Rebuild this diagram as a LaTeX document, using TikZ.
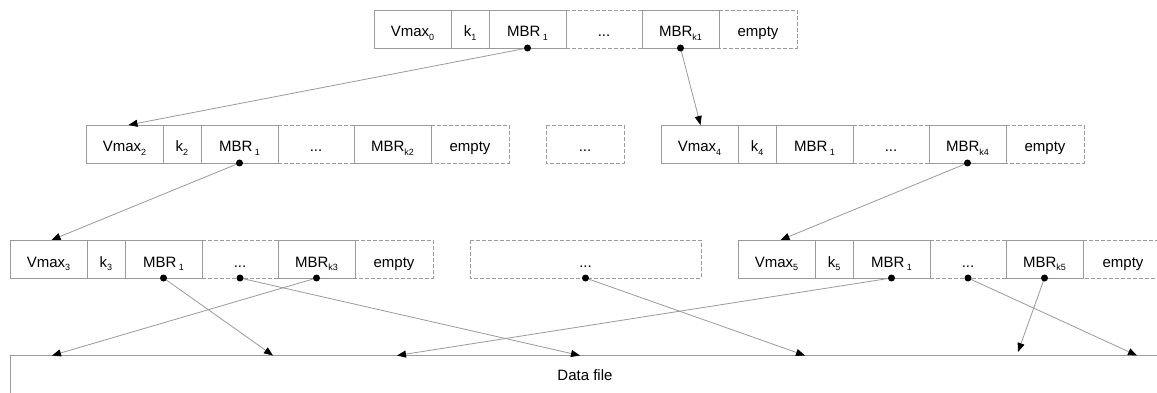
\documentclass[tikz,border=0pt]{standalone}
\usepackage{fontspec}
\setmainfont{Liberation Sans}
\usetikzlibrary{arrows.meta}
\definecolor{lgray}{HTML}{9A9A9A}
\newcommand\lsub[1]{\raisebox{-3.5pt}{\fontsize{9}{9}\selectfont #1}}
\tikzset{
  celltext/.style={anchor=base,inner sep=0pt,font=\fontsize{15}{18}\selectfont},
  solidb/.style={draw=lgray,line width=0.8pt},
  dashb/.style={draw=lgray,line width=0.8pt,dash pattern=on 4pt off 2pt},
  conn/.style={draw=lgray,line width=0.8pt,-{Triangle[length=9pt,width=7pt,color=black]}},
  dotn/.style={circle,fill=black,inner sep=0pt,minimum size=7pt},
}
% #1 prefix, #2 x, #3 y, #4 Vmax sub, #5 k sub, #6 MBR_k sub, #7 right end of empty cell
\newcommand\btnode[7]{%
\begin{scope}[shift={(#2,#3)}]
  \draw[solidb] (0,0) rectangle (192,38);
  \draw[solidb] (77,0) -- (77,38) (115,0) -- (115,38);
  \draw[solidb] (268,0) rectangle (345,38);
  \draw[dashb] (192,0) -- (268,0) (192,38) -- (268,38);
  \draw[dashb] (345,0) -- (#7,0) -- (#7,38) -- (345,38);
  \node[celltext] (#1-v) at (38.5,27) {Vmax\lsub{#4}};
  \node[celltext] (#1-k) at (96,27) {k\lsub{#5}};
  \node[celltext] (#1-m) at (153.5,27) {MBR\,\lsub{1}};
  \node[celltext] (#1-d) at (230,27) {...};
  \node[celltext] (#1-n) at (306.5,27) {MBR\lsub{#6}};
  \node[celltext] (#1-e) at ({(345+#7)/2},27) {empty};
  \coordinate (#1-vN) at (38.5,0);
  \coordinate (#1-mS) at (153.5,38);
  \coordinate (#1-dS) at (230,38);
  \coordinate (#1-nS) at (306.5,38);
\end{scope}}
\begin{document}
\begin{tikzpicture}[x=1pt,y=-1pt]
\clip (0,0) rectangle (1157,393);
\fill[white] (0,0) rectangle (1157,393);
% tree nodes
\btnode{T}{374}{10}{0}{1}{k1}{423}
\btnode{LB}{86}{125}{2}{2}{k2}{423}
\btnode{RB}{661}{125}{4}{4}{k4}{423}
\btnode{LC}{10}{240}{3}{3}{k3}{423}
\btnode{RC}{738}{240}{5}{5}{k5}{425}
% middle placeholder boxes
\draw[dashb] (546,125) rectangle (624,163);
\node[celltext] (midB) at (585,152) {...};
\draw[dashb] (470,240) rectangle (701,278);
\node[celltext] (midC) at (585.5,267) {...};
\coordinate (midC-S) at (585.5,278);
% data file
\coordinate (dfL) at (10,355.5);
\coordinate (dfR) at (1157,355.5);
\coordinate (dfB) at (10,393);
\draw[solidb] (dfB) -- (dfL) -- (dfR);
\node[celltext] (df) at (585,380) {Data file};
\coordinate (t1) at (52,355.5);
\coordinate (t2) at (273,355.5);
\coordinate (t3) at (397,355.5);
\coordinate (t4) at (580,355.5);
\coordinate (t5) at (805,355.5);
\coordinate (t6) at (1018,352);
\coordinate (t7) at (1137,355.5);
% connectors
\draw[conn] (T-mS) -- ([xshift=4pt]LB-vN);
\draw[conn] (T-nS) -- ([xshift=1pt]RB-vN);
\draw[conn] (LB-mS) -- ([xshift=3pt]LC-vN);
\draw[conn] (RB-nS) -- ([xshift=4pt]RC-vN);
\draw[conn] (LC-mS) -- (t2);
\draw[conn] (LC-dS) -- (t4);
\draw[conn] (LC-nS) -- (t1);
\draw[conn] (midC-S) -- (t5);
\draw[conn] (RC-mS) -- (t3);
\draw[conn] (RC-dS) -- (t7);
\draw[conn] (RC-nS) -- (t6);
% dots
\foreach \p/\q in {T-mS/d1,T-nS/d2,LB-mS/d3,RB-nS/d4,LC-mS/d5,LC-dS/d6,LC-nS/d7,midC-S/d8,RC-mS/d9,RC-dS/d10,RC-nS/d11}
  \node[dotn] (\q) at (\p) {};
\end{tikzpicture}
\end{document}
